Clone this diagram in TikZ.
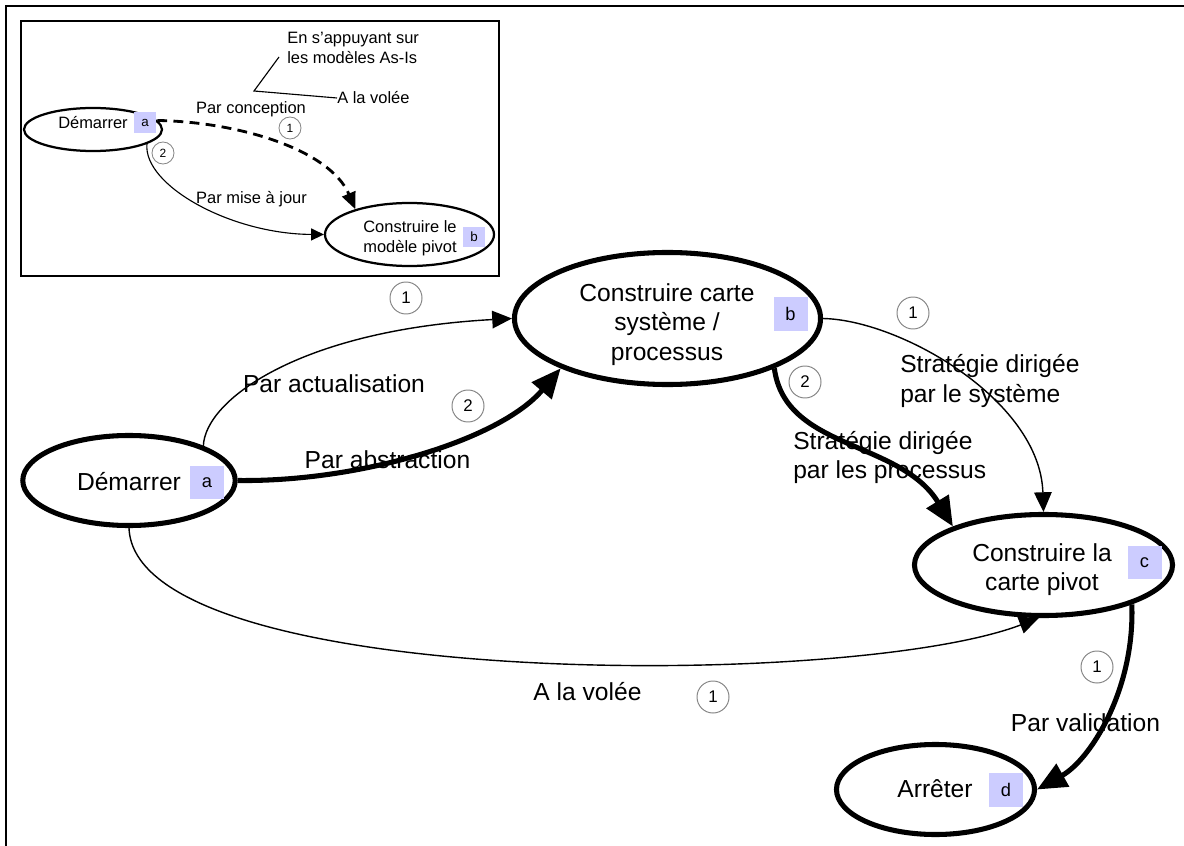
\documentclass[tikz,border=0pt]{standalone}
\usepackage{fontspec}
\setmainfont{Liberation Sans}
\usetikzlibrary{shapes.geometric,arrows.meta}
\definecolor{lbl}{HTML}{CCCCFF}
\definecolor{cgray}{HTML}{858585}
\begin{document}
\begin{tikzpicture}[x=0.025cm,y=-0.025cm,
  state/.style={draw, ellipse, fill=white, line width=3.6pt, inner sep=0pt},
  istate/.style={draw, ellipse, fill=white, line width=1.6pt, inner sep=0pt},
  txt/.style={font=\fontsize{17.5}{21}\selectfont, align=center, inner sep=0pt},
  ltxt/.style={font=\fontsize{17.5}{21}\selectfont, align=left, inner sep=0pt, anchor=west},
  itxt/.style={font=\fontsize{11.7}{14.2}\selectfont, align=center, inner sep=0pt},
  iltxt/.style={font=\fontsize{11.7}{14.2}\selectfont, align=left, inner sep=0pt, anchor=west},
  tag/.style={fill=lbl, inner sep=0pt, minimum width=0.85cm, minimum height=0.84cm, font=\fontsize{13}{13}\selectfont},
  itag/.style={fill=lbl, inner sep=0pt, minimum width=0.55cm, minimum height=0.52cm, font=\fontsize{9.5}{9.5}\selectfont},
  num/.style={draw=cgray, circle, line width=0.7pt, minimum size=0.8cm, inner sep=0pt, font=\fontsize{12}{12}\selectfont},
  inum/.style={draw=cgray, circle, line width=0.6pt, minimum size=0.55cm, inner sep=0pt, font=\fontsize{8.5}{8.5}\selectfont},
  thinarrow/.style={line width=1pt, -{Triangle[length=14pt, width=12.5pt]}},
  thickarrow/.style={line width=3.6pt, -{Triangle[length=21pt, width=18pt]}},
  ithin/.style={line width=0.8pt, -{Triangle[length=9pt, width=8.5pt]}},
  idash/.style={line width=2pt, dash pattern=on 7pt off 4.5pt, -{Triangle[length=12pt, width=10pt]}},
  frame/.style={line width=1.4pt}
]
\useasboundingbox (0,0) rectangle (1184,846);

% outer frame (top and left edges)
\coordinate (fbl) at (6,846);
\coordinate (ftl) at (6,6);
\coordinate (ftr) at (1184,6);
\draw[frame] (fbl) -- (ftl) -- (ftr);

% inset frame
\draw[frame] (21,21) rectangle (499,276);

% ---------- inset ----------
\node[istate, minimum width=3.45cm, minimum height=1.075cm] (ia) at (93,129.5) {};
\node[itxt] (iat) at (93,123) {Démarrer};
\node[itag] (iag) at (145,122.5) {a};

\node[istate, minimum width=4.225cm, minimum height=1.575cm] (ib) at (409.5,234.5) {};
\node[itxt] (ibt) at (410,238.5) {Construire le\\modèle pivot};
\node[itag] (ibg) at (474,237) {b};

\draw[idash] (ia.8) .. controls (240,122) and (330,150) .. (ib.155);
\draw[ithin] (ia.-15) .. controls (143,185) and (230,234) .. (ib.west);

\node[itxt] (ipc) at (251,109.5) {Par conception};
\node[itxt] (ipm) at (251.5,199.5) {Par mise à jour};
\node[inum] (in1) at (290,128) {1};
\node[inum] (in2) at (163,153) {2};

\node[iltxt] (ien) at (287,48) {En s’appuyant sur\\les modèles As-Is};
\node[iltxt] (ialv) at (337,98) {A la volée};
\coordinate (br1) at (279,57);
\coordinate (br2) at (254,91);
\draw[line width=0.8pt] (br1) -- (br2) -- (ialv.west);

% ---------- main states ----------
\node[state, minimum width=5.31cm, minimum height=2.25cm] (a) at (129,480.5) {};
\node[txt] (at) at (129,482) {Démarrer};
\node[tag] (ag) at (207,482.5) {a};

\node[state, minimum width=7.65cm, minimum height=3.3cm] (b) at (667.5,318.5) {};
\node[txt] (bt) at (667,324.5) {Construire carte\\système /\\processus};
\node[tag] (bg) at (790.5,314) {b};

\node[state, minimum width=6.45cm, minimum height=2.525cm] (c) at (1043.5,565) {};
\node[txt] (ct) at (1042,569.5) {Construire la\\carte pivot};
\node[tag] (cg) at (1144.5,562.5) {c};

\node[state, minimum width=4.95cm, minimum height=2.25cm] (d) at (935.5,789.5) {};
\node[txt] (dt) at (935,789) {Arrêter};
\node[tag] (dg) at (1006,790) {d};

% ---------- main connectors ----------
\draw[thinarrow] (a.25) .. controls (205,400) and (300,330) .. (b.west);
\draw[thickarrow] (a.east) .. controls (360,482) and (500,440) .. (b.205);
\draw[thickarrow] (b.-25) .. controls (785,450) and (900,440) .. (c.157);
\draw[thinarrow] (b.east) .. controls (900,320) and (1040,400) .. (c.north);
\draw[thinarrow] (a.south) .. controls (135,690) and (850,690) .. (c.265);
\draw[thickarrow] (c.-24) .. controls (1135,690) and (1090,760) .. (d.east);

% ---------- main labels ----------
\node[txt] (lact) at (334,384) {Par actualisation};
\node[txt] (labs) at (387.5,460) {Par abstraction};
\node[ltxt] (lsp) at (793,457.5) {Stratégie dirigée\\par les processus};
\node[ltxt] (lss) at (900,381) {Stratégie dirigée\\par le système};
\node[txt] (lvol) at (587.5,692) {A la volée};
\node[txt] (lval) at (1085.5,723) {Par validation};

\node[num] (n1) at (406,298) {1};
\node[num] (n2) at (468,406) {2};
\node[num] (n3) at (805,382) {2};
\node[num] (n4) at (913,313) {1};
\node[num] (n5) at (713,697) {1};
\node[num] (n6) at (1097,667) {1};
\end{tikzpicture}
\end{document}
